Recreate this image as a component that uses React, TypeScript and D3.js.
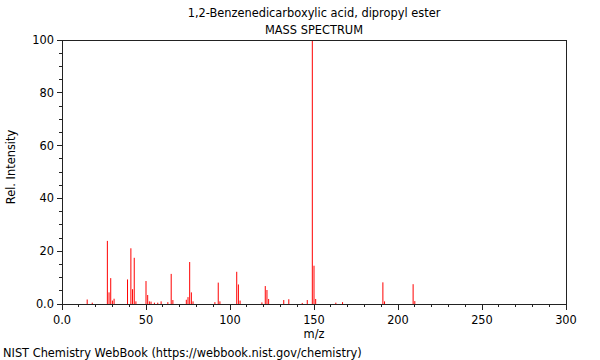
import React from "react";
import * as d3 from "d3";

const titleLine1 = "1,2-Benzenedicarboxylic acid, dipropyl ester";
const titleLine2 = "MASS SPECTRUM";
const xLabel = "m/z";
const yLabel = "Rel. Intensity";
const footer = "NIST Chemistry WebBook (https://webbook.nist.gov/chemistry)";

const mzValues = [15, 18, 27, 28, 29, 30, 31, 39, 41, 42, 43, 44, 50, 51, 52, 53, 55, 57, 59, 63, 65, 66, 74, 75, 76, 77, 78, 91, 93, 94, 104, 105, 106, 119, 121, 122, 123, 132, 135, 143, 146, 149, 150, 151, 163, 167, 191, 192, 209, 210];
const intensities = [1.7, 0.5, 23.9, 4.4, 9.8, 1.3, 2.0, 9.3, 21.1, 5.6, 17.5, 1.0, 8.7, 3.4, 1.0, 0.9, 0.5, 0.5, 1.0, 0.7, 11.4, 1.5, 1.6, 2.6, 15.9, 4.4, 1.0, 0.7, 8.1, 1.0, 12.2, 7.4, 1.3, 0.6, 6.8, 5.3, 1.9, 1.5, 1.8, 0.4, 1.5, 100, 14.5, 1.9, 0.5, 0.7, 8.2, 1.0, 7.5, 1.1];

const xMajorTicks = [0, 50, 100, 150, 200, 250, 300];
const xTickLabels = ["0.0", "50", "100", "150", "200", "250", "300"];
const yMajorTicks = [0, 20, 40, 60, 80, 100];
const yTickLabels = ["0.0", "20", "40", "60", "80", "100"];

export default function App() {
  const W = 600, H = 360;
  const left = 62, right = 566, top = 40, bottom = 304;
  const x = d3.scaleLinear().domain([0, 300]).range([left, right]);
  const y = d3.scaleLinear().domain([0, 100]).range([bottom, top]);
  const xMinor = d3.range(0, 301, 10).filter((v) => v % 50 !== 0);
  const yMinor = d3.range(0, 101, 5).filter((v) => v % 20 !== 0);
  const font = "DejaVu Sans, sans-serif";
  const axisColor = "#222";
  const peaks = mzValues.map((m, i) => ({ m, v: intensities[i] }));

  return (
    <svg width={W} height={H} style={{ position: "absolute", left: 0, top: 0, background: "#fff" }} fontFamily={font}>
      <rect x={0} y={0} width={W} height={H} fill="#fff" />
      <text x={314} y={17} textAnchor="middle" fontSize={11.4} fill="#000">{titleLine1}</text>
      <text x={314} y={34} textAnchor="middle" fontSize={11.4} fill="#000">{titleLine2}</text>
      {peaks.map((p, i) => (
        <line key={i} x1={x(p.m)} x2={x(p.m)} y1={y(0)} y2={y(p.v)} stroke="#ff0000" strokeWidth={1} />
      ))}
      <rect x={left} y={top} width={right - left} height={bottom - top} fill="none" stroke={axisColor} strokeWidth={1} shapeRendering="crispEdges" />
      {xMajorTicks.map((t, i) => (
        <g key={"xt" + i}>
          <line x1={x(t)} x2={x(t)} y1={bottom} y2={bottom + 6} stroke={axisColor} shapeRendering="crispEdges" />
          <text x={x(t)} y={324} textAnchor="middle" fontSize={11.4} fill="#000">{xTickLabels[i]}</text>
        </g>
      ))}
      {xMinor.map((t) => (
        <line key={"xm" + t} x1={x(t)} x2={x(t)} y1={bottom} y2={bottom + 3} stroke={axisColor} shapeRendering="crispEdges" />
      ))}
      {yMajorTicks.map((t, i) => (
        <g key={"yt" + i}>
          <line x1={left - 5} x2={left} y1={y(t)} y2={y(t)} stroke={axisColor} shapeRendering="crispEdges" />
          <text x={54} y={y(t) + 4} textAnchor="end" fontSize={11.4} fill="#000">{yTickLabels[i]}</text>
        </g>
      ))}
      {yMinor.map((t) => (
        <line key={"ym" + t} x1={left - 3} x2={left} y1={y(t)} y2={y(t)} stroke={axisColor} shapeRendering="crispEdges" />
      ))}
      <text x={314} y={338} textAnchor="middle" fontSize={11.4} fill="#000">{xLabel}</text>
      <text transform={`translate(15,167) rotate(-90)`} textAnchor="middle" fontSize={11.4} fill="#000">{yLabel}</text>
      <text x={3} y={357} fontSize={11.4} fill="#000">{footer}</text>
    </svg>
  );
}
